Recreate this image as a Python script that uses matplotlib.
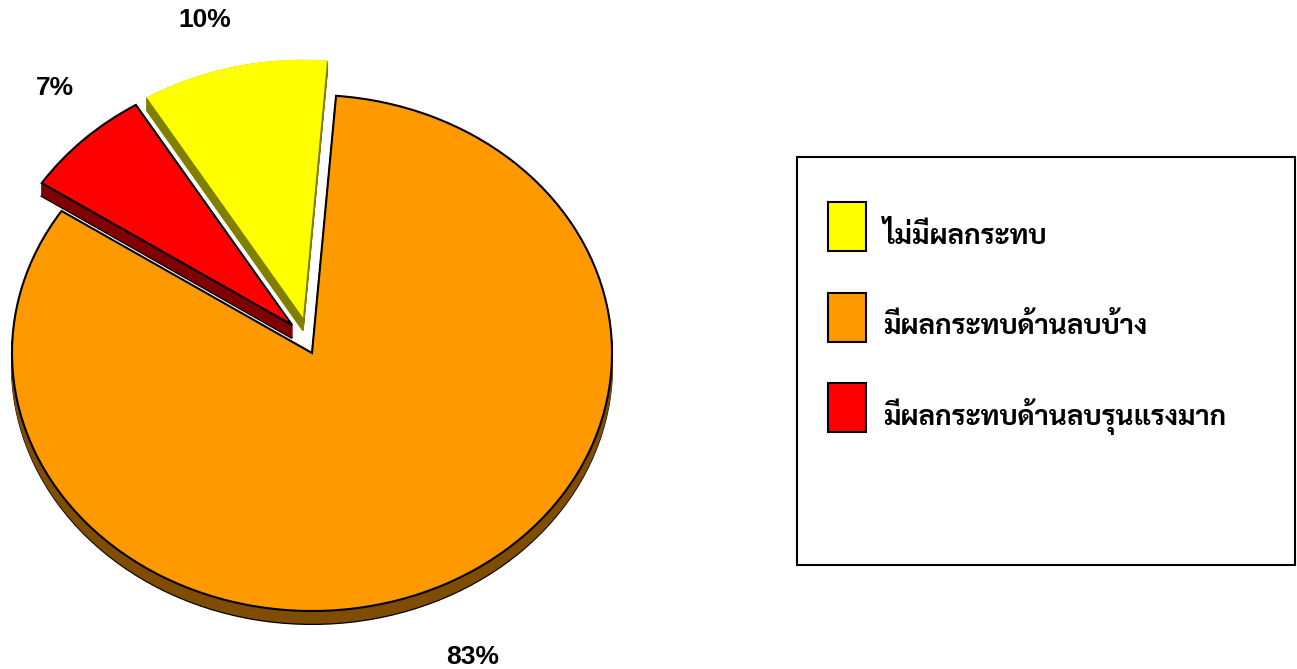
import numpy as np
import matplotlib
matplotlib.use("Agg")
import matplotlib.pyplot as plt
from matplotlib import font_manager as fm
from matplotlib.ft2font import FT2Font
from matplotlib.patches import Patch, Rectangle
from matplotlib.legend_handler import HandlerPatch

# ---------------- data ----------------
categories = ["ไม่มีผลกระทบ", "มีผลกระทบด้านลบบ้าง", "มีผลกระทบด้านลบรุนแรงมาก"]
values = [10, 83, 7]
top_colors = ["#FFFF00", "#FF9900", "#FF0000"]
side_colors = ["#808000", "#7F4C00", "#800000"]
# pulled-out offsets of slices (in pie-radius units: x, y)
slice_offsets = [(-0.03, 0.137), (0.0, 0.0), (-0.066, 0.108)]

# ---------------- font with Thai glyphs ----------------
def find_thai_font():
    prefs = ["angsana", "sarabun", "norasi", "garuda", "loma", "kinnari",
             "serif thai", "sans thai", "laksaman", "tlwg", "waree", "umpush", "sawasdee"]
    found = []
    paths = set(f.fname for f in fm.fontManager.ttflist)
    try:
        for p in fm.findSystemFonts():
            if p not in paths:
                try:
                    fm.fontManager.addfont(p)
                except Exception:
                    pass
    except Exception:
        pass
    for f in fm.fontManager.ttflist:
        try:
            cm = FT2Font(f.fname).get_charmap()
        except Exception:
            continue
        if 0x0E21 in cm and 0x0E35 in cm:
            found.append(f.name)
    if not found:
        return None
    for p in prefs:
        for n in found:
            if p in n.lower():
                return n
    return found[0]

thai = find_thai_font()
thai_family = [thai, "DejaVu Sans"] if thai else ["DejaVu Sans"]

W, H = 1297, 669
fig = plt.figure(figsize=(W / 100, H / 100), dpi=100)

# pie ellipse geometry (pixels)
cx, cy = 312, 669 - 353
rx, ry = 300, 258
L = 1.5
ax = fig.add_axes([(cx - L * rx) / W, (cy - L * ry) / H, 2 * L * rx / W, 2 * L * ry / H])

startangle = 121.4
depth = 13 / ry
nsteps = 14

# zorder per slice: orange below, then yellow, then red
base_z = {1: 1, 0: 4, 2: 7}

# extrusion (side)
for k in range(nsteps, 0, -1):
    off = depth * k / nsteps
    wedges, _ = ax.pie(values, startangle=startangle, counterclock=False,
                       colors=side_colors, radius=1.0, normalize=True)
    for i, w in enumerate(wedges):
        ox, oy = slice_offsets[i]
        w.set_center((ox, oy - off))
        w.set_zorder(base_z[i] + (0 if k == nsteps else 1))
        if k == nsteps and i != 0:
            w.set_edgecolor("black")
            w.set_linewidth(1.5)
        else:
            w.set_edgecolor(side_colors[i])
            w.set_linewidth(1.0)
        w.set_clip_on(False)

# top surface
wedges, _, autotexts = ax.pie(values, startangle=startangle, counterclock=False,
                              colors=top_colors, radius=1.0, autopct="%1.0f%%", pctdistance=1.2,
                              normalize=True,
                              textprops=dict(fontsize=19, fontweight="bold",
                                             family="Liberation Sans", color="black"))
for i, w in enumerate(wedges):
    w.set_center(slice_offsets[i])
    w.set_zorder(base_z[i] + 2)
    w.set_clip_on(False)
    if i == 0:
        w.set_edgecolor("none")
    else:
        w.set_edgecolor("black")
        w.set_linewidth(1.5)

ax.set_aspect("auto")
ax.set_xlim(-L, L)
ax.set_ylim(-L, L)
ax.axis("off")

# label positions (from picture)
label_pos_px = [(205, 20), (473, 657), (55, 88)]
for t, (px, py) in zip(autotexts, label_pos_px):
    t.set_position(((px - cx) / rx, ((669 - py) - cy) / ry))
    t.set_zorder(20)

# legend frame
fig.patches.append(Rectangle((797 / W, 1 - 565 / H), (1295 - 797) / W, (565 - 157) / H,
                             transform=fig.transFigure, facecolor="white",
                             edgecolor="black", linewidth=1.5, zorder=0))

PX = 72 / 100  # points per pixel
sq_w, sq_h, sq_below = 38 * PX, 49 * PX, 7 * PX


def square(legend, orig_handle, xdescent, ydescent, width, height, fontsize):
    return Rectangle((-xdescent, -sq_below), sq_w, sq_h)


handles = [Patch(facecolor=c, edgecolor="black", linewidth=1.5) for c in top_colors]
fs = 20
pitch_pt = 90.5 * PX
hh = (pitch_pt / fs - 0.245) / 0.65
top_above_base = pitch_pt - 0.35 * fs * (hh - 0.7)
first_base_px = 244
leg = fig.legend(handles, categories, loc="upper left",
                 bbox_to_anchor=(828 / W, 1 - (first_base_px - top_above_base / PX) / H),
                 frameon=False,
                 prop=dict(family=thai_family, weight="bold", size=fs),
                 handlelength=sq_w / fs, handleheight=hh,
                 handler_map={Patch: HandlerPatch(patch_func=square)},
                 labelspacing=0, handletextpad=17 * PX / fs, borderpad=0, borderaxespad=0)

fig.savefig("out.png", dpi=100)
